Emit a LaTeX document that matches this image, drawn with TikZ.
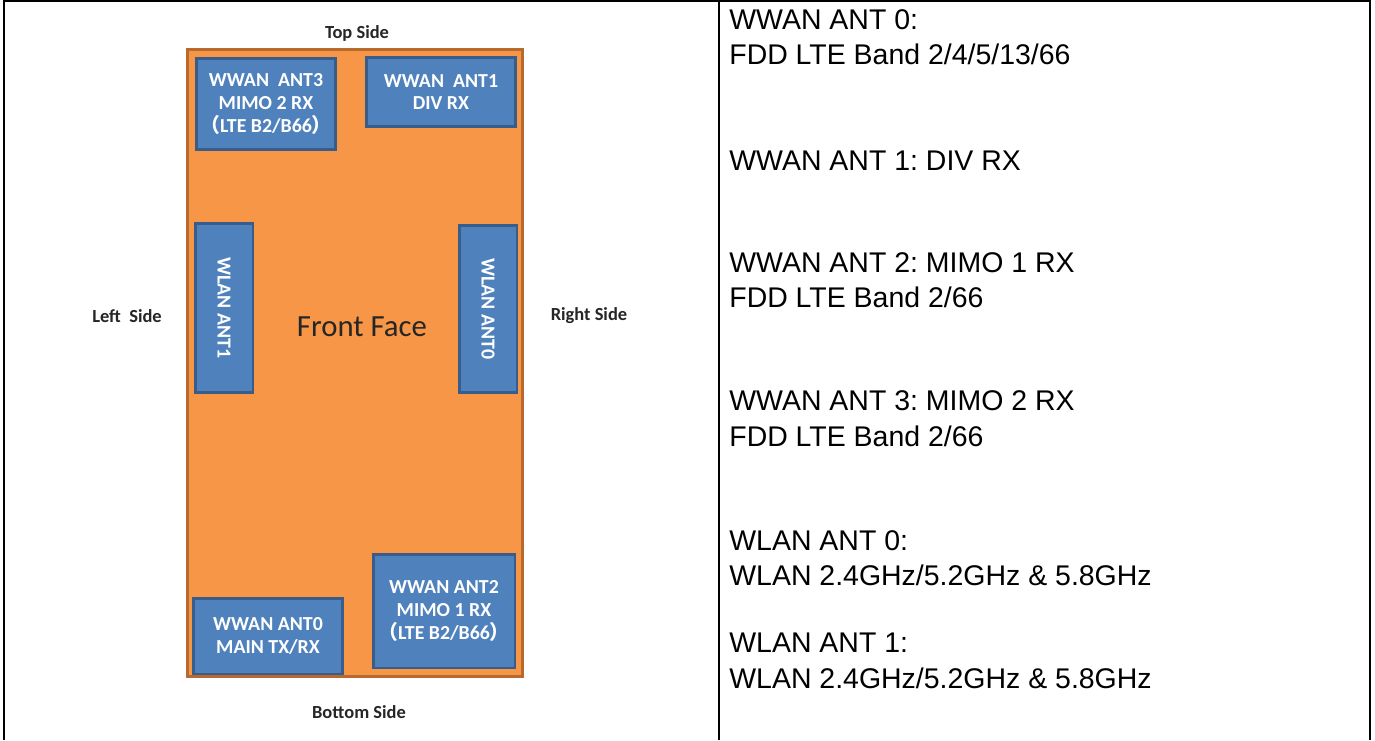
\documentclass[tikz,border=0pt]{standalone}
\usepackage{fontspec}
\setmainfont{Liberation Sans}
\newfontfamily\calibri{Carlito}
\newfontfamily\cjk{Noto Sans CJK SC}
\definecolor{faceorange}{HTML}{F79646}
\definecolor{faceedge}{HTML}{B86A2E}
\definecolor{antblue}{HTML}{4F81BD}
\definecolor{antedge}{HTML}{385D8A}
\definecolor{inkdark}{HTML}{262626}
\usetikzlibrary{positioning}
\frenchspacing

\begin{document}
\begin{tikzpicture}[
    x=0.02cm, y=-0.02cm,
    face/.style={rectangle, draw=faceedge, line width=1.7pt, fill=faceorange, inner sep=0pt},
    antbox/.style={rectangle, draw=antedge, line width=1.7pt, fill=antblue, text=white,
                   inner sep=0pt, align=center, font=\calibri\bfseries\fontsize{11.3}{13}\selectfont},
    sidelabel/.style={font=\calibri\bfseries\fontsize{10.5}{12}\selectfont, text=inkdark},
    note/.style={anchor=base west, inner sep=0pt, font=\fontsize{16.2}{19.8}\selectfont}
]
    \useasboundingbox (0,0) rectangle (1375,740);

    % table frame
    \draw[line width=1.4pt] (4,740) -- (4,1) -- (1370,1) -- (1370,740);
    \draw[line width=1.4pt] (719,1) -- (719,740);

    % device front face
    \node[face, minimum width=6.72cm, minimum height=12.56cm] (front) at (355,363) {};
    \node[font=\calibri\fontsize{17.5}{20}\selectfont, text=inkdark] (frontlbl) at (362,327) {Front Face};

    \node[antbox, minimum width=2.8cm, minimum height=1.84cm] (wwan3) at (266,104)
        {WWAN\ \ ANT3\\MIMO 2 RX\\{\cjk （}LTE B2/B66{\cjk ）}};
    \node[antbox, minimum width=3.0cm, minimum height=1.38cm] (wwan1) at (441,92)
        {WWAN\ \ ANT1\\DIV RX};
    \node[antbox, rotate=-90, minimum width=3.4cm, minimum height=1.16cm] (wlan1) at (224,308)
        {WLAN ANT1};
    \node[antbox, rotate=-90, minimum width=3.36cm, minimum height=1.16cm] (wlan0) at (488,309)
        {WLAN ANT0};
    \node[antbox, minimum width=3.0cm, minimum height=1.52cm] (wwan0) at (268,636)
        {WWAN ANT0\\MAIN TX/RX};
    \node[antbox, minimum width=2.84cm, minimum height=2.28cm] (wwan2) at (444,611)
        {WWAN ANT2\\MIMO 1 RX\\{\cjk （}LTE B2/B66{\cjk ）}};

    % side labels
    \node[sidelabel] (topside) at (357,33) {Top Side};
    \node[sidelabel] (leftside) at (127,316) {Left\ \ Side};
    \node[sidelabel] (rightside) at (589,316) {Right Side};
    \node[sidelabel] (bottomside) at (359,712) {Bottom Side};

    % antenna notes
    \node[note] (n0a) at (729,30) {WWAN ANT 0:};
    \node[note] (n0b) at (729,65) {FDD LTE Band 2/4/5/13/66};
    \node[note] (n1a) at (729,170) {WWAN ANT 1: DIV RX};
    \node[note] (n2a) at (729,272) {WWAN ANT 2: MIMO 1 RX};
    \node[note] (n2b) at (729,307) {FDD LTE Band 2/66};
    \node[note] (n3a) at (729,410) {WWAN ANT 3: MIMO 2 RX};
    \node[note] (n3b) at (729,446) {FDD LTE Band 2/66};
    \node[note] (l0a) at (729,550) {WLAN ANT 0:};
    \node[note] (l0b) at (729,585) {WLAN 2.4GHz/5.2GHz \& 5.8GHz};
    \node[note] (l1a) at (729,652) {WLAN ANT 1:};
    \node[note] (l1b) at (729,688) {WLAN 2.4GHz/5.2GHz \& 5.8GHz};
\end{tikzpicture}
\end{document}
